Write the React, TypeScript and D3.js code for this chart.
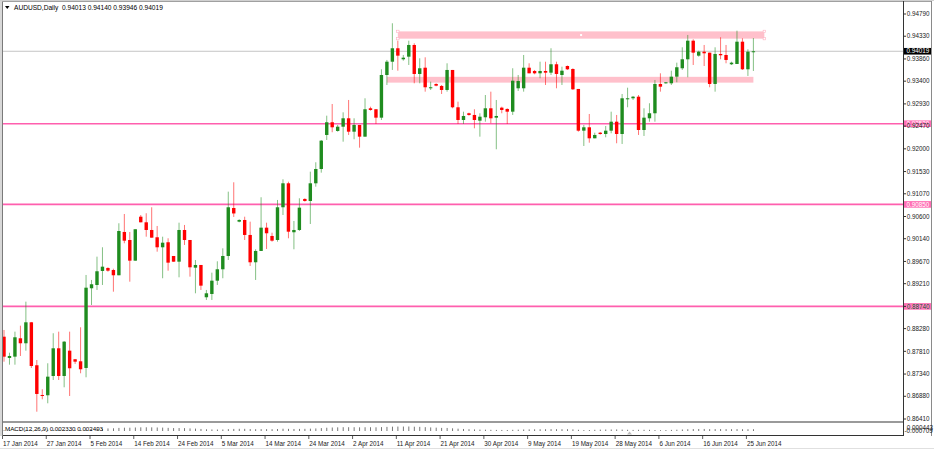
import React, { useMemo } from "react";
import * as d3 from "d3";

const opens = [0.88113,0.87673,0.87700,0.88080,0.87977,0.88411,0.87522,0.86907,0.86901,0.87300,0.87873,0.87300,0.87824,0.87646,0.87604,0.87466,0.89115,0.89183,0.89473,0.89535,0.89493,0.89384,0.90280,0.90114,0.89686,0.90596,0.90480,0.90321,0.90170,0.89963,0.90067,0.89783,0.89665,0.90321,0.90114,0.89541,0.89597,0.88929,0.88997,0.89272,0.89508,0.89783,0.90776,0.90493,0.90528,0.90218,0.89653,0.89887,0.90369,0.90197,0.90114,0.90791,0.91287,0.90274,0.90321,0.90963,0.90921,0.91287,0.91583,0.92287,0.92550,0.92370,0.92458,0.92632,0.92355,0.92494,0.92252,0.92839,0.92819,0.92645,0.93528,0.93803,0.94081,0.93853,0.93907,0.94149,0.93549,0.93679,0.93253,0.93342,0.93301,0.93218,0.93632,0.92860,0.92597,0.92736,0.92701,0.92583,0.92653,0.92839,0.92645,0.92852,0.92825,0.92769,0.93253,0.93253,0.93679,0.93611,0.93563,0.93611,0.93576,0.93750,0.93528,0.93714,0.93652,0.93239,0.92376,0.92446,0.92218,0.92334,0.92307,0.92376,0.92562,0.92307,0.93025,0.93046,0.93079,0.92390,0.92632,0.92736,0.93342,0.93356,0.93356,0.93493,0.93667,0.93853,0.94238,0.93928,0.94010,0.93990,0.93342,0.93963,0.93942,0.93750,0.93756,0.94217,0.93646,0.94013];
const highs = [0.88252,0.87782,0.88217,0.88341,0.88838,0.88418,0.87631,0.87025,0.87563,0.88184,0.88217,0.88024,0.88217,0.87652,0.88308,0.89390,0.89287,0.89769,0.89963,0.89549,0.89520,0.90460,0.90652,0.90280,0.90336,0.90631,0.90667,0.90791,0.90404,0.90182,0.90149,0.89783,0.90472,0.90425,0.90114,0.89700,0.89597,0.89080,0.89438,0.89673,0.89942,0.91114,0.91308,0.90543,0.90596,0.90493,0.89922,0.90998,0.90472,0.90265,0.90942,0.91370,0.91320,0.90507,0.90977,0.90977,0.91527,0.91722,0.92183,0.92686,0.92928,0.92494,0.92756,0.93011,0.92632,0.92494,0.93046,0.92872,0.92819,0.93646,0.93839,0.94598,0.94238,0.93942,0.94238,0.94184,0.93874,0.93894,0.93390,0.93356,0.93321,0.93770,0.93632,0.92976,0.92769,0.92748,0.92819,0.92736,0.93114,0.93183,0.93011,0.92872,0.92839,0.93667,0.93528,0.93942,0.93770,0.93632,0.93803,0.93803,0.94081,0.93803,0.93700,0.93725,0.93667,0.93239,0.92494,0.92721,0.92334,0.92349,0.92473,0.92769,0.92701,0.93135,0.93265,0.93094,0.93114,0.92839,0.92943,0.93425,0.93563,0.93383,0.93617,0.93783,0.94101,0.94356,0.94267,0.94031,0.94149,0.93990,0.94101,0.94308,0.94149,0.93803,0.94445,0.94288,0.94060,0.94293];
const lows = [0.87596,0.87534,0.87534,0.87714,0.87824,0.87466,0.86561,0.86818,0.86735,0.87217,0.87217,0.87066,0.86886,0.87549,0.87356,0.87273,0.88769,0.89080,0.89183,0.89458,0.89044,0.89384,0.90046,0.89251,0.89686,0.90480,0.90182,0.90162,0.89872,0.89322,0.89479,0.89665,0.89342,0.90011,0.89355,0.89011,0.89080,0.88873,0.88873,0.89183,0.89322,0.89700,0.90590,0.90480,0.90114,0.89576,0.89287,0.89887,0.89928,0.90079,0.90079,0.90631,0.90149,0.89922,0.90300,0.90907,0.90445,0.91217,0.91507,0.92183,0.92343,0.92355,0.92148,0.92287,0.92198,0.92024,0.92252,0.92790,0.92514,0.92597,0.93321,0.93632,0.93617,0.93824,0.93735,0.93356,0.93356,0.93183,0.93218,0.93294,0.93135,0.93183,0.92839,0.92514,0.92514,0.92686,0.92425,0.92252,0.92562,0.92529,0.91991,0.92736,0.92514,0.92701,0.93197,0.93183,0.93563,0.93543,0.93460,0.93321,0.93528,0.93253,0.93321,0.93632,0.93218,0.92355,0.92059,0.92127,0.92218,0.92293,0.92239,0.92322,0.92115,0.92101,0.92860,0.93011,0.92287,0.92266,0.92562,0.92562,0.93183,0.93348,0.93321,0.93377,0.93632,0.93481,0.93735,0.93907,0.93714,0.93274,0.93183,0.93853,0.93770,0.93735,0.93756,0.93632,0.93508,0.93611];
const closes = [0.87700,0.87714,0.88101,0.87977,0.88411,0.87507,0.86928,0.86893,0.87286,0.87873,0.87300,0.88010,0.87460,0.87596,0.87439,0.89127,0.89198,0.89467,0.89562,0.89479,0.89384,0.90300,0.90100,0.89686,0.90336,0.90480,0.90321,0.90162,0.89963,0.90058,0.89645,0.89665,0.90321,0.90114,0.89549,0.89597,0.89169,0.89011,0.89272,0.89508,0.89783,0.90791,0.90663,0.90528,0.90218,0.89653,0.89887,0.90369,0.90253,0.90100,0.90791,0.91287,0.90286,0.90321,0.90783,0.90921,0.91287,0.91583,0.92169,0.92550,0.92446,0.92458,0.92632,0.92355,0.92494,0.92252,0.92819,0.92804,0.92645,0.93528,0.93803,0.94081,0.93928,0.93886,0.94149,0.93549,0.93667,0.93274,0.93274,0.93307,0.93218,0.93632,0.92860,0.92597,0.92680,0.92701,0.92597,0.92665,0.92839,0.92632,0.92680,0.92804,0.92769,0.93410,0.93404,0.93679,0.93563,0.93563,0.93611,0.93576,0.93750,0.93549,0.93617,0.93646,0.93232,0.92376,0.92446,0.92218,0.92287,0.92307,0.92376,0.92562,0.92307,0.93046,0.93046,0.93079,0.92390,0.92645,0.92736,0.93342,0.93286,0.93377,0.93493,0.93688,0.93853,0.94238,0.93990,0.94010,0.93977,0.93342,0.93963,0.93936,0.93839,0.93783,0.94217,0.93646,0.94010,0.94019];

const dateLabels = ["17 Jan 2014","27 Jan 2014","5 Feb 2014","14 Feb 2014","24 Feb 2014","5 Mar 2014","14 Mar 2014","24 Mar 2014","2 Apr 2014","11 Apr 2014","21 Apr 2014","30 Apr 2014","9 May 2014","19 May 2014","28 May 2014","6 Jun 2014","16 Jun 2014","25 Jun 2014"];
const dateLabelBars = [0,8,16,24,32,40,48,56,64,72,80,88,96,104,112,120,128,136];
const priceTicks = [0.94790,0.94330,0.93860,0.93400,0.92930,0.92470,0.92000,0.91530,0.91070,0.90600,0.90140,0.89670,0.89210,0.88740,0.88280,0.87810,0.87340,0.86880,0.86410];
const levelLines = [0.92520, 0.90850, 0.88740];
const zoneStartBar = [72, 70];
const zoneEndBar = [139, 137];
const zoneTop = [0.94430, 0.93490];
const zoneBottom = [0.94280, 0.93370];
const bidPrice = 0.94019;
const headerText = "AUDUSD,Daily  0.94013 0.94140 0.93946 0.94019";
const macdText = "MACD(12,26,9) 0.002330 0.002493";
const macdAxis = ["0.000443", "-0.000709"];

const FONT = "'Liberation Sans', Arial, sans-serif";

export default function App() {
  const W = 934, H = 450;
  const left = 3, right = 903, top = 2, mainBottom = 421;
  const macdTop = 423, macdBottom = 436;

  const x = d3.scaleLinear().domain([0, opens.length - 1]).range([4, 4 + (opens.length - 1) * 5.47]);
  const y = d3.scaleLinear().domain([0.86410, 0.94790]).range([419, 14]);

  const macd = useMemo(() => {
    const a12 = 2 / 13, a26 = 2 / 27;
    let e12 = closes[0], e26 = closes[0];
    return closes.map((c) => {
      e12 = e12 + a12 * (c - e12);
      e26 = e26 + a26 * (c - e26);
      return e12 - e26;
    });
  }, []);
  const macdMax = d3.max(macd, (v) => Math.abs(v)) || 1;
  const mh = d3.scaleLinear().domain([0, macdMax]).range([0.8, 4.5]);

  const bull = "#1f8c1f";
  const bear = "#ff0000";

  return (
    <svg width={W} height={H} style={{ position: "absolute", left: 0, top: 0, background: "#fff" }} fontFamily={FONT}>
      <rect x={0} y={0} width={W} height={H} fill="#fff" />
      <defs>
        <clipPath id="mainClip">
          <rect x={left} y={top} width={right - left} height={mainBottom - top} />
        </clipPath>
      </defs>
      {/* frame */}
      <rect x={0} y={0} width={2} height={436} fill="#d8d8d8" />
      <line x1={2.5} y1={0} x2={2.5} y2={436} stroke="#7a7a7a" />
      <line x1={0} y1={0.5} x2={W} y2={0.5} stroke="#d0d0d0" />
      <line x1={2} y1={1.5} x2={931} y2={1.5} stroke="#a0a0a0" />
      <line x1={931.5} y1={1} x2={931.5} y2={436} stroke="#8a8a8a" />

      <g clipPath="url(#mainClip)">
        {/* zones */}
        {zoneTop.map((t, k) => (
          <rect key={"z" + k} x={x(zoneStartBar[k])} y={y(t)} width={x(zoneEndBar[k]) - x(zoneStartBar[k])} height={y(zoneBottom[k]) - y(t)} fill="#ffc0cb" />
        ))}
        {/* bid line */}
        <line x1={left} x2={right} y1={y(bidPrice)} y2={y(bidPrice)} stroke="#c4c4c4" strokeWidth={1} />
        {/* level lines */}
        {levelLines.map((v, k) => (
          <line key={"l" + k} x1={left} x2={right} y1={y(v)} y2={y(v)} stroke="#ff5fae" strokeWidth={1.6} />
        ))}
        {/* candles */}
        {opens.map((o, i) => {
          const c = closes[i];
          const col = c >= o ? bull : bear;
          const yt = y(Math.max(o, c));
          const yb = y(Math.min(o, c));
          return (
            <g key={"c" + i}>
              <line x1={x(i)} x2={x(i)} y1={y(highs[i])} y2={y(lows[i])} stroke={col} strokeWidth={1} strokeOpacity={0.55} />
              <rect x={x(i) - 1.7} y={yt} width={3.4} height={Math.max(1, yb - yt)} fill={col} />
            </g>
          );
        })}
        {/* handles of top zone */}
        {[[zoneStartBar[0], zoneTop[0]], [zoneStartBar[0], zoneBottom[0]], [zoneEndBar[0], zoneTop[0]], [zoneEndBar[0], zoneBottom[0]]].map((p, k) => (
          <rect key={"h" + k} x={x(p[0]) - 1.2} y={y(p[1]) - 1.2} width={2.4} height={2.4} fill="#fff" stroke="#ffb0c0" strokeWidth={0.6} />
        ))}
        <rect x={(x(zoneStartBar[0]) + x(zoneEndBar[0])) / 2 - 1} y={(y(zoneTop[0]) + y(zoneBottom[0])) / 2 - 1} width={2} height={2} fill="#fff" />
      </g>

      {/* header */}
      <path d="M5,6 L9.5,6 L7.25,9 Z" fill="#000" />
      <text x={14} y={10} fontSize={6.6} fill="#000" style={{ whiteSpace: "pre" }}>{headerText}</text>

      {/* main bottom separator */}
      <rect x={left} y={mainBottom} width={right - left} height={2} fill="#9a9a9a" />

      {/* MACD panel */}
      {macd.map((v, i) => (
        <rect key={"m" + i} x={x(i) - 0.4} y={431 - mh(Math.abs(v))} width={0.9} height={mh(Math.abs(v))} fill="#6a6a6a" />
      ))}
      <text x={5} y={431} fontSize={6.2} fill="#000">{macdText}</text>
      <path d="M627,434.5 L629.5,431.5 L632,434.5 Z" fill="#bdbdbd" />
      <line x1={left} x2={right} y1={macdBottom - 0.5} y2={macdBottom - 0.5} stroke="#333" />

      {/* right axis */}
      <line x1={right + 0.5} x2={right + 0.5} y1={1} y2={macdBottom} stroke="#333" />
      {levelLines.map((v, k) => (
        <g key={"ll" + k}>
          <rect x={904} y={y(v) - 3.3} width={27} height={6.6} fill="#ff6eb4" />
          <text x={906.5} y={y(v)} dy="0.35em" fontSize={6.3} fill="#fff">{v.toFixed(5)}</text>
        </g>
      ))}
      <rect x={904} y={y(bidPrice) - 3.3} width={27} height={6.6} fill="#000" />
      <text x={906.5} y={y(bidPrice)} dy="0.35em" fontSize={6.3} fill="#fff">{bidPrice.toFixed(5)}</text>
      {priceTicks.map((v, k) => (
        <g key={"t" + k}>
          <line x1={903} x2={906} y1={y(v)} y2={y(v)} stroke="#333" />
          <text x={906.7} y={y(v)} dy="0.35em" fontSize={6.3} fill="#1a1a1a">{v.toFixed(5)}</text>
        </g>
      ))}
      <text x={906.7} y={427.5} dy="0.35em" fontSize={6.3} fill="#1a1a1a">{macdAxis[0]}</text>
      <text x={904.5} y={430.5} dy="0.35em" fontSize={6.3} fill="#1a1a1a">{macdAxis[1]}</text>

      {/* date axis */}
      {dateLabels.map((s, k) => (
        <g key={"d" + k}>
          <line x1={x(dateLabelBars[k]) - 1.5} x2={x(dateLabelBars[k]) - 1.5} y1={436} y2={439} stroke="#333" strokeWidth={0.8} />
          <text x={x(dateLabelBars[k]) - 1} y={445.5} fontSize={6.3} fill="#1a1a1a">{s}</text>
        </g>
      ))}
      <line x1={0} x2={W} y1={448.5} y2={448.5} stroke="#e0e0e0" />
    </svg>
  );
}
